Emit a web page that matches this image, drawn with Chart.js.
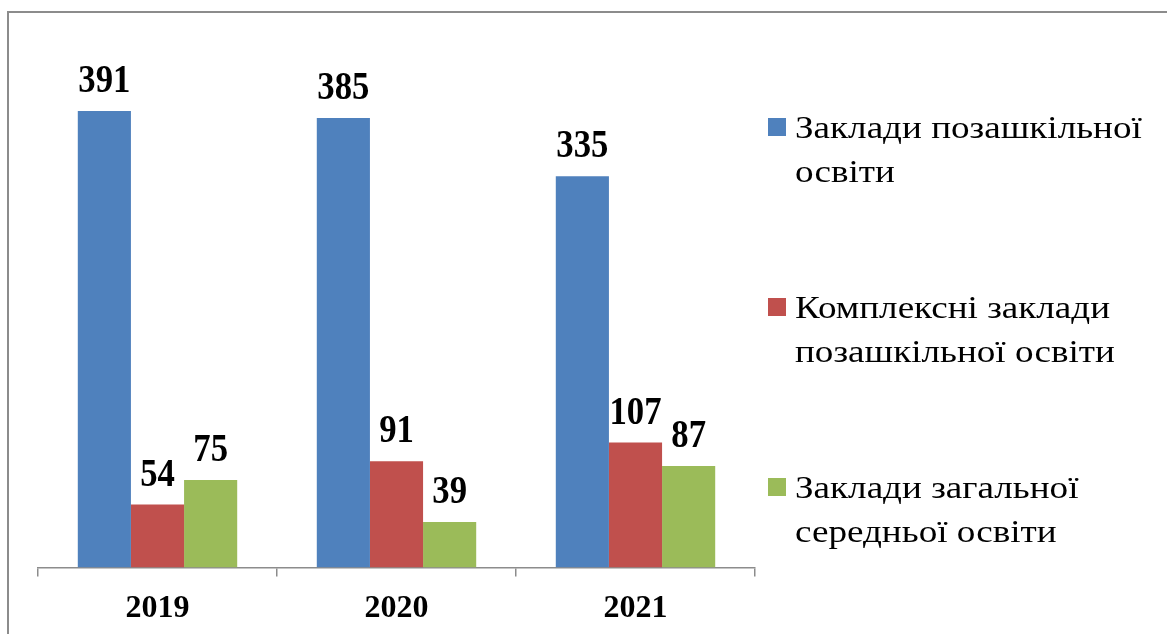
<!DOCTYPE html>
<html>
<head>
<meta charset="utf-8">
<script src="https://cdn.jsdelivr.net/npm/chart.js@4/dist/chart.umd.min.js"></script>
<style>
  html, body { margin: 0; padding: 0; background: #fff; overflow: hidden; }
  #wrap { position: relative; width: 1167px; height: 634px; }
</style>
</head>
<body>
<div id="wrap"><canvas id="chart" width="1167" height="634"></canvas></div>
<script>
const years = ['2019', '2020', '2021'];
const seriesNames = [
  'Заклади позашкільної освіти',
  'Комплексні заклади позашкільної освіти',
  'Заклади загальної середньої освіти'
];
const outOfSchool = [391, 385, 335];
const complexOutOfSchool = [54, 91, 107];
const generalSecondary = [75, 39, 87];
const colors = ['#4F81BD', '#C0504D', '#9BBB59'];

const SERIF = '"Liberation Serif", "Times New Roman", serif';

// frame around the picture (only top and left edges are visible)
const framePlugin = {
  id: 'frame',
  beforeDraw(chart) {
    const ctx = chart.ctx;
    ctx.save();
    ctx.strokeStyle = '#8c8c8c';
    ctx.lineWidth = 2;
    ctx.beginPath();
    ctx.moveTo(8, chart.height);
    ctx.lineTo(8, 12);
    ctx.lineTo(chart.width, 12);
    ctx.stroke();
    ctx.restore();
  }
};

// text squeezed/stretched horizontally around its anchor
function drawText(ctx, text, x, y, sx) {
  ctx.save();
  ctx.translate(x, y);
  ctx.scale(sx, 1);
  ctx.fillText(text, 0, 0);
  ctx.restore();
}

// bold value over each bar
const valueLabels = {
  id: 'valueLabels',
  afterDatasetsDraw(chart) {
    const ctx = chart.ctx;
    ctx.save();
    ctx.font = 'bold 39px ' + SERIF;
    ctx.fillStyle = '#000';
    ctx.textAlign = 'center';
    ctx.textBaseline = 'alphabetic';
    chart.data.datasets.forEach((ds, i) => {
      chart.getDatasetMeta(i).data.forEach((bar, j) => {
        drawText(ctx, String(ds.data[j]), bar.x, bar.y - 19, 0.89);
      });
    });
    ctx.restore();
  }
};

// legend on the right with wrapped text
const sideLegend = {
  id: 'sideLegend',
  afterDraw(chart) {
    const ctx = chart.ctx;
    const x0 = 768, textX = 795, maxW = 368, sx = 1.16;
    ctx.save();
    ctx.font = '32px ' + SERIF;
    ctx.textBaseline = 'alphabetic';
    ctx.textAlign = 'left';
    chart.data.datasets.forEach((ds, i) => {
      const top = 118 + i * 180;
      ctx.fillStyle = ds.backgroundColor;
      ctx.fillRect(x0, top, 18, 18);
      // wrap words
      const words = ds.label.split(' ');
      const lines = [];
      let cur = '';
      words.forEach(w => {
        const test = cur ? cur + ' ' + w : w;
        if (ctx.measureText(test).width * sx > maxW && cur) {
          lines.push(cur);
          cur = w;
        } else {
          cur = test;
        }
      });
      lines.push(cur);
      ctx.fillStyle = '#000';
      lines.forEach((line, k) => {
        drawText(ctx, line, textX, top + 20 + k * 44, sx);
      });
    });
    ctx.restore();
  }
};

new Chart(document.getElementById('chart'), {
  type: 'bar',
  data: {
    labels: years,
    datasets: [
      { label: seriesNames[0], data: outOfSchool, backgroundColor: colors[0] },
      { label: seriesNames[1], data: complexOutOfSchool, backgroundColor: colors[1] },
      { label: seriesNames[2], data: generalSecondary, backgroundColor: colors[2] }
    ]
  },
  options: {
    responsive: false,
    animation: false,
    layout: { padding: { left: 38, right: 412, top: 42, bottom: -7 } },
    datasets: {
      bar: { categoryPercentage: 0.667, barPercentage: 1.0 }
    },
    plugins: {
      legend: { display: false },
      tooltip: { enabled: false }
    },
    scales: {
      x: {
        grid: {
          display: true,
          drawOnChartArea: false,
          drawTicks: true,
          tickLength: 9,
          color: '#8c8c8c',
          lineWidth: 1.5
        },
        border: { display: true, color: '#8c8c8c', width: 1.5 },
        ticks: {
          color: '#000',
          padding: 13,
          font: { family: SERIF, size: 32, weight: 'bold' }
        }
      },
      y: {
        display: false,
        min: 0,
        max: 450
      }
    }
  },
  plugins: [framePlugin, valueLabels, sideLegend]
});
</script>
</body>
</html>
